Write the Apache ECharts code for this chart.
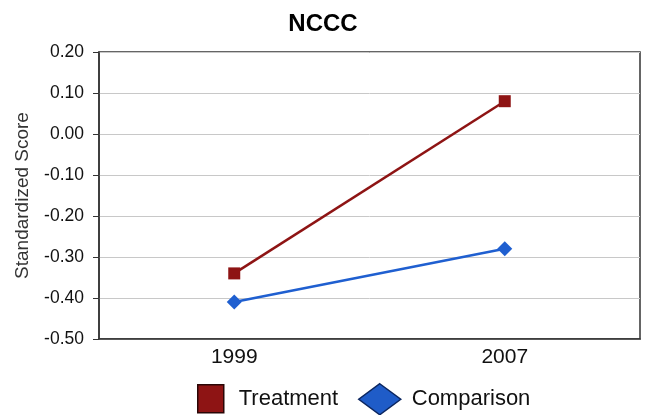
<!DOCTYPE html>
<html><head><meta charset="utf-8">
<script src="https://cdn.jsdelivr.net/npm/echarts@6/dist/echarts.min.js"></script>
<style>html,body{margin:0;padding:0;background:#fff}#c{width:646px;height:415px}</style>
</head><body><div id="c"></div>
<script>
const categories = ['1999', '2007'];
const treatment = [-0.34, 0.08];
const comparison = [-0.41, -0.28];
const yTicks = {min: -0.5, max: 0.2, interval: 0.1};

const chart = echarts.init(document.getElementById('c'), null, {renderer: 'canvas'});
const font = 'Liberation Sans, Arial, sans-serif';
const red = '#8e1414', blue = '#1f5fd0';
chart.setOption({
  animation: false,
  title: {text: 'NCCC', left: 'center', top: 7, textStyle: {fontFamily: font, fontSize: 24, fontWeight: 'bold', color: '#000'}},
  grid: {left: 99, right: 6, top: 52, bottom: 76, show: true, borderColor: '#333', borderWidth: 1.5},
  legend: [
    {data: [{name: 'Treatment', icon: 'rect', itemStyle: {color: red, borderColor: '#2a0606', borderWidth: 1.5}}],
     left: 197, top: 384, padding: 0, itemWidth: 26, itemHeight: 28,
     textStyle: {fontFamily: font, fontSize: 22, color: '#111', padding: [0, 0, 0, 10]}},
    {data: [{name: 'Comparison', icon: 'diamond', itemStyle: {color: '#1f5cc8', borderColor: '#0b2660', borderWidth: 1.5}}],
     left: 358, top: 383, padding: 0, itemWidth: 42, itemHeight: 31,
     textStyle: {fontFamily: font, fontSize: 22, color: '#111', padding: [0, 0, 0, 6]}}
  ],
  xAxis: {
    type: 'category', data: categories, boundaryGap: true,
    axisLine: {onZero: false, lineStyle: {color: '#333', width: 1.5}},
    axisTick: {show: false},
    axisLabel: {fontFamily: font, fontSize: 21, color: '#111', margin: 8}
  },
  yAxis: {
    type: 'value', min: yTicks.min, max: yTicks.max, interval: yTicks.interval,
    name: 'Standardized Score', nameLocation: 'middle', nameGap: 67, nameRotate: 90,
    nameTextStyle: {fontFamily: font, fontSize: 19, color: '#333'},
    axisLine: {show: true, lineStyle: {color: '#333', width: 1.5}},
    axisTick: {show: true, inside: false, length: 6, lineStyle: {color: '#333'}},
    axisLabel: {fontFamily: font, fontSize: 17.5, color: '#111', margin: 15, formatter: v => v.toFixed(2)},
    splitLine: {lineStyle: {color: '#c8c8c8', width: 1}}
  },
  series: [
    {name: 'Treatment', type: 'line', data: treatment, symbol: 'rect', symbolSize: 12,
     lineStyle: {color: red, width: 2.5}, itemStyle: {color: red}},
    {name: 'Comparison', type: 'line', data: comparison, symbol: 'diamond', symbolSize: 15,
     lineStyle: {color: blue, width: 2.5}, itemStyle: {color: blue}}
  ]
});
</script></body></html>
